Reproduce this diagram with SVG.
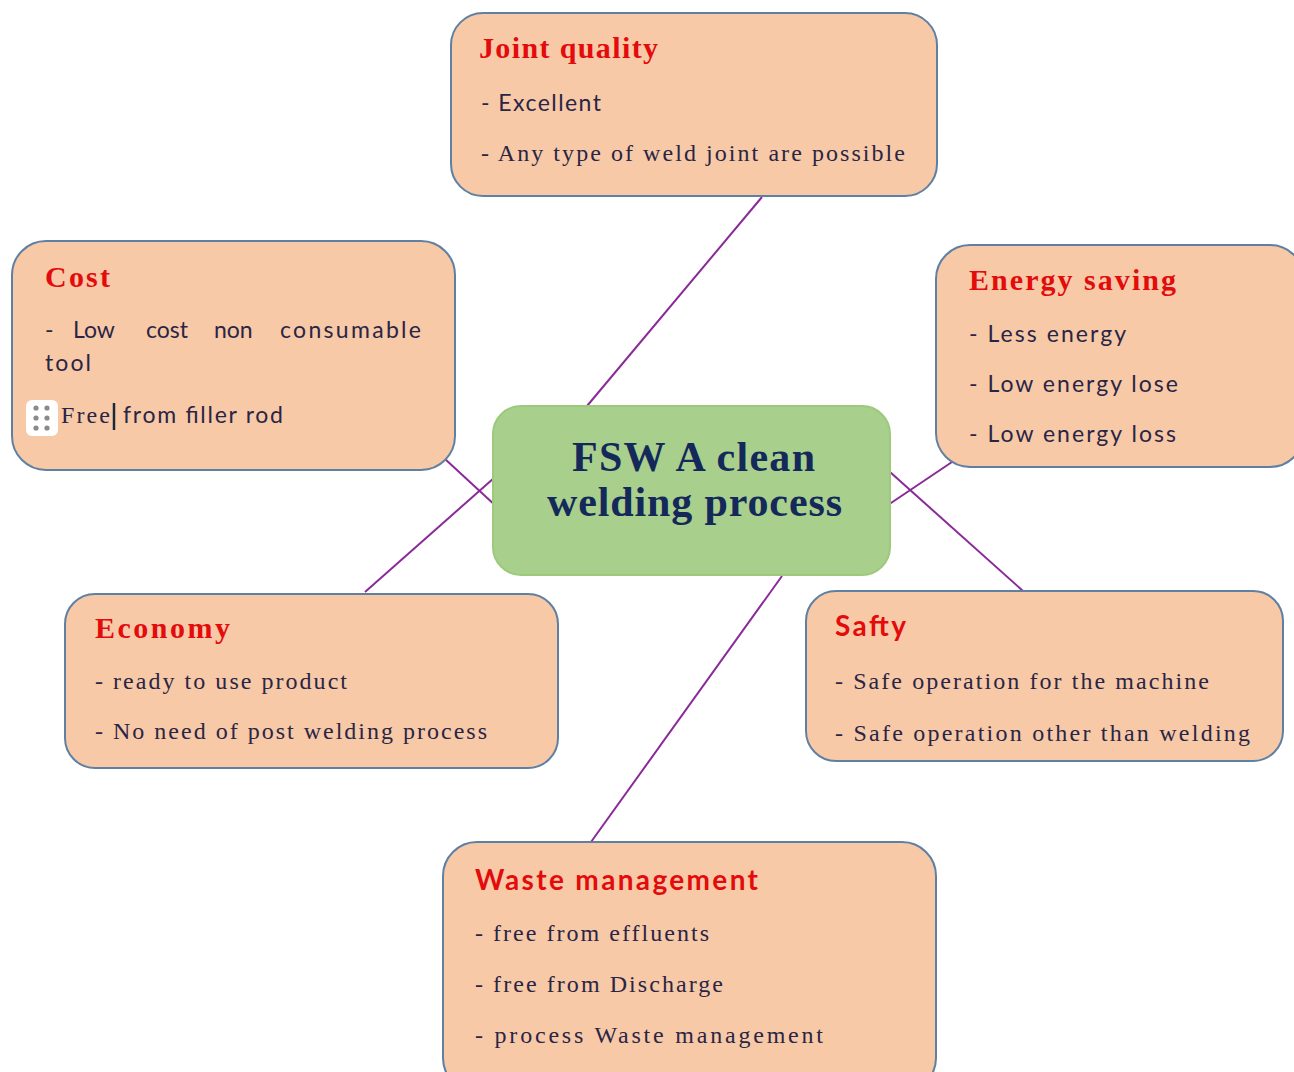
<svg xmlns="http://www.w3.org/2000/svg" width="1294" height="1072" viewBox="0 0 1294 1072">
<style>
.box{fill:#f7c9a7;stroke:#5f7fa3;stroke-width:2}
.center{fill:#a8d08c;stroke:#9cc97c;stroke-width:2}
.conn{stroke:#8a2a98;stroke-width:2;fill:none}
.ts{font-family:"Liberation Serif",serif;font-weight:bold;font-size:30px;fill:#e30b0b}
.tss{font-family:Lato,"Liberation Sans",sans-serif;font-weight:bold;font-size:28px;fill:#e30b0b}
.bs{font-family:"Liberation Serif",serif;font-size:24px;fill:#2a2545}
.bn{font-family:Lato,"Liberation Sans",sans-serif;font-size:23px;fill:#2a2545}
.ct{font-family:"Liberation Serif",serif;font-weight:bold;font-size:42px;fill:#14295a}
</style>
<rect width="1294" height="1072" fill="#ffffff"/>
<g id="connectors">
<line class="conn" x1="762" y1="197" x2="587" y2="406"/>
<line class="conn" x1="445" y1="459" x2="497" y2="507"/>
<line class="conn" x1="365" y1="592" x2="494" y2="478"/>
<line class="conn" x1="952" y1="462" x2="888" y2="505"/>
<line class="conn" x1="1023" y1="591" x2="890" y2="472"/>
<line class="conn" x1="591" y1="842" x2="782" y2="576"/>
</g>
<g id="joint-quality">
<rect class="box" x="451" y="13" width="486" height="183" rx="32"/>
<text class="ts" x="479" y="58" textLength="179" lengthAdjust="spacing">Joint quality</text>
<text class="bn" x="481" y="111" textLength="120" lengthAdjust="spacing">- Excellent</text>
<text class="bs" x="481" y="161" textLength="424" lengthAdjust="spacing">- Any type of weld joint are possible</text>
</g>
<g id="cost">
<rect class="box" x="12" y="241" width="443" height="229" rx="34"/>
<text class="ts" x="45" y="287" textLength="65" lengthAdjust="spacing">Cost</text>
<text class="bn" y="338"><tspan x="45">-</tspan><tspan x="73">Low</tspan><tspan x="146">cost</tspan><tspan x="214">non</tspan><tspan x="280" textLength="141" lengthAdjust="spacing">consumable</tspan></text>
<text class="bn" x="45" y="371" textLength="46" lengthAdjust="spacing">tool</text>
<rect x="26" y="400" width="32" height="36" rx="6" fill="#ffffff"/>
<g fill="#8a8a8a">
<circle cx="36" cy="408" r="2.6"/><circle cx="47" cy="408" r="2.6"/>
<circle cx="36" cy="418" r="2.6"/><circle cx="47" cy="418" r="2.6"/>
<circle cx="36" cy="428" r="2.6"/><circle cx="47" cy="428" r="2.6"/>
</g>
<text class="bs" x="61" y="423" textLength="49" lengthAdjust="spacing">Free</text>
<line x1="114" y1="403" x2="114" y2="430" stroke="#1a2a3a" stroke-width="2.5"/>
<text class="bn" x="123" y="423" textLength="160" lengthAdjust="spacing">from filler rod</text>
</g>
<g id="energy-saving">
<rect class="box" x="936" y="245" width="368" height="222" rx="34"/>
<text class="ts" x="969" y="290" textLength="207" lengthAdjust="spacing">Energy saving</text>
<text class="bn" x="969" y="342" textLength="157" lengthAdjust="spacing">- Less energy</text>
<text class="bn" x="969" y="392" textLength="209" lengthAdjust="spacing">- Low energy lose</text>
<text class="bn" x="969" y="442" textLength="207" lengthAdjust="spacing">- Low energy loss</text>
</g>
<g id="center">
<rect class="center" x="493" y="406" width="397" height="169" rx="28"/>
<text class="ct" x="572" y="471" textLength="243" lengthAdjust="spacing">FSW A clean</text>
<text class="ct" x="547" y="516" textLength="295" lengthAdjust="spacing">welding process</text>
</g>
<g id="economy">
<rect class="box" x="65" y="594" width="493" height="174" rx="30"/>
<text class="ts" x="95" y="638" textLength="135" lengthAdjust="spacing">Economy</text>
<text class="bs" x="95" y="689" textLength="252" lengthAdjust="spacing">- ready to use product</text>
<text class="bs" x="95" y="739" textLength="392" lengthAdjust="spacing">- No need of post welding process</text>
</g>
<g id="safty">
<rect class="box" x="806" y="591" width="477" height="170" rx="30"/>
<text class="tss" x="835" y="636" textLength="71" lengthAdjust="spacing">Safty</text>
<text class="bs" x="835" y="689" textLength="374" lengthAdjust="spacing">- Safe operation for the machine</text>
<text class="bs" x="835" y="741" textLength="415" lengthAdjust="spacing">- Safe operation other than welding</text>
</g>
<g id="waste-management">
<rect class="box" x="443" y="842" width="493" height="250" rx="34"/>
<text class="tss" x="475" y="890" textLength="283" lengthAdjust="spacing">Waste management</text>
<text class="bs" x="475" y="941" textLength="234" lengthAdjust="spacing">- free from effluents</text>
<text class="bs" x="475" y="992" textLength="248" lengthAdjust="spacing">- free from Discharge</text>
<text class="bs" x="475" y="1043" textLength="348" lengthAdjust="spacing">- process Waste management</text>
</g>
</svg>
